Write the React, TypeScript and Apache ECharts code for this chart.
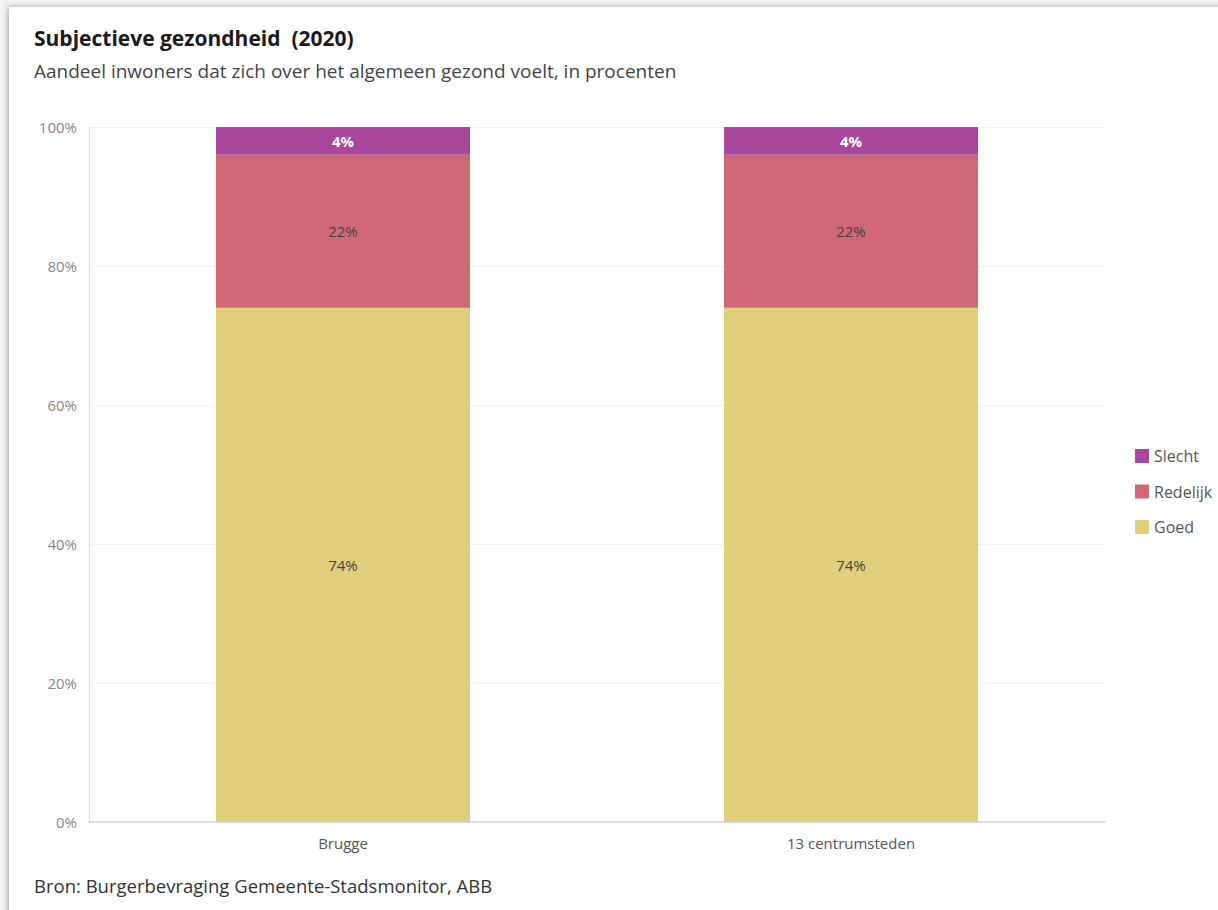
import React, { useEffect, useRef } from "react";
import * as echarts from "echarts";

const categories = ["Brugge", "13 centrumsteden"];
const goed = [74, 74];
const redelijk = [22, 22];
const slecht = [4, 4];
const yTicks = [0, 20, 40, 60, 80, 100];

const FONT = "'Open Sans', 'Noto Sans', sans-serif";

export default function App() {
  const ref = useRef<HTMLDivElement>(null);
  useEffect(() => {
    const chart = echarts.init(ref.current!, null, { renderer: "svg" });
    chart.setOption({
      animation: false,
      backgroundColor: "#f4f4f4",
      textStyle: { fontFamily: FONT },
      graphic: [
        {
          type: "rect",
          shape: { x: 9, y: 7, width: 1230, height: 920 },
          style: { fill: "#ffffff", shadowBlur: 6, shadowColor: "rgba(0,0,0,0.35)", shadowOffsetX: -1, shadowOffsetY: 0 },
          z: -10,
        },
        {
          type: "text",
          left: 34,
          top: 27,
          style: { text: "Subjectieve gezondheid  (2020)", font: `bold 21px ${FONT}`, fill: "#1a1a1a" },
        },
        {
          type: "text",
          left: 34,
          top: 61,
          style: { text: "Aandeel inwoners dat zich over het algemeen gezond voelt, in procenten", font: `19px ${FONT}`, fill: "#444" },
        },
        {
          type: "text",
          left: 34,
          top: 876,
          style: { text: "Bron: Burgerbevraging Gemeente-Stadsmonitor, ABB", font: `18.5px ${FONT}`, fill: "#333" },
        },
      ],
      legend: {
        orient: "vertical",
        left: 1130,
        top: 443,
        itemWidth: 14,
        itemHeight: 14,
        itemGap: 19.5,
        icon: "rect",
        data: ["Slecht", "Redelijk", "Goed"],
        textStyle: { fontFamily: FONT, fontSize: 16, color: "#555" },
      },
      grid: { left: 89, right: 113, top: 127, bottom: 88, containLabel: false },
      xAxis: {
        type: "category",
        data: categories,
        axisLine: { lineStyle: { color: "#dddddd", width: 2 } },
        axisTick: { show: false },
        axisLabel: { color: "#555", fontSize: 15, fontFamily: FONT, margin: 13 },
      },
      yAxis: {
        type: "value",
        min: 0,
        max: 100,
        interval: 20,
        axisLine: { show: true, lineStyle: { color: "#dddddd" } },
        axisTick: { show: false },
        splitLine: { lineStyle: { color: "#f0f0f0" } },
        axisLabel: {
          color: "#888",
          fontSize: 15,
          fontFamily: FONT,
          margin: 12,
          formatter: (v: number) => (yTicks.includes(v) ? v + "%" : ""),
        },
      },
      series: [
        {
          name: "Goed",
          type: "bar",
          stack: "s",
          barWidth: "50%",
          data: goed,
          itemStyle: { color: "#dfcf7b" },
          label: { show: true, formatter: "{c}%", color: "#444", fontSize: 15, fontFamily: FONT },
        },
        {
          name: "Redelijk",
          type: "bar",
          stack: "s",
          data: redelijk,
          itemStyle: { color: "#cf6775" },
          label: { show: true, formatter: "{c}%", color: "#444", fontSize: 15, fontFamily: FONT },
        },
        {
          name: "Slecht",
          type: "bar",
          stack: "s",
          data: slecht,
          itemStyle: { color: "#a9479d" },
          label: { show: true, formatter: "{c}%", color: "#ffffff", fontWeight: "bold", fontSize: 15, fontFamily: FONT },
        },
      ],
    });
    return () => chart.dispose();
  }, []);
  return <div ref={ref} style={{ position: "absolute", left: 0, top: 0, width: 1218, height: 910 }} />;
}
